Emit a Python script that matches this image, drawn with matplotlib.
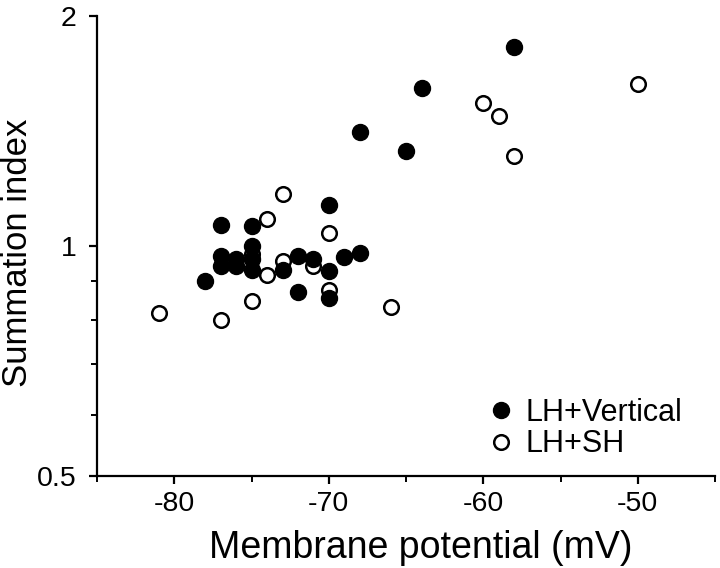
import matplotlib
matplotlib.use("Agg")
import matplotlib.pyplot as plt
from matplotlib.ticker import FixedLocator, LogLocator, MultipleLocator, NullFormatter, FuncFormatter

plt.rcParams['font.family'] = ['Liberation Sans', 'DejaVu Sans']
plt.rcParams['axes.unicode_minus'] = False

# LH+Vertical (filled)
vert_mv = [-58, -64, -68, -65, -70, -77, -75, -75, -77, -77, -76, -76, -75, -75,
           -78, -73, -72, -71, -70, -69, -68, -72, -70]
vert_si = [1.82, 1.61, 1.41, 1.33, 1.13, 1.065, 1.062, 1.0, 0.97, 0.94, 0.96, 0.94,
           0.96, 0.93, 0.90, 0.93, 0.97, 0.96, 0.927, 0.967, 0.979, 0.87, 0.855]

# LH+SH (open)
sh_mv = [-73, -74, -70, -75, -74, -73, -71, -70, -75, -81, -77, -66, -60, -59, -58, -50]
sh_si = [1.168, 1.084, 1.04, 0.975, 0.916, 0.955, 0.94, 0.875, 0.846, 0.818, 0.801,
         0.833, 1.537, 1.479, 1.31, 1.63]

yticks = [0.5, 1, 2]
ytick_labels = ['0.5', '1', '2']

fig = plt.figure(figsize=(7.2, 5.68), dpi=100)
ax = fig.add_axes([0.135, 0.162, 0.858, 0.81])

ax.plot(sh_mv, sh_si, 'o', ms=10.5, mfc='white', mec='black', mew=1.8,
        label='LH+SH', zorder=3)
ax.plot(vert_mv, vert_si, 'o', ms=11.5, mfc='black', mec='black',
        label='LH+Vertical', zorder=4)

ax.set_yscale('log')
ax.set_ylim(0.5, 2)
ax.set_xlim(-85, -45)
ax.yaxis.set_major_locator(FixedLocator(yticks))
ax.yaxis.set_major_formatter(FuncFormatter(lambda v, p: ytick_labels[yticks.index(v)] if v in yticks else ''))
ax.yaxis.set_minor_locator(LogLocator(base=10, subs=range(2, 10)))
ax.yaxis.set_minor_formatter(NullFormatter())
ax.xaxis.set_major_locator(FixedLocator([-80, -70, -60, -50]))
ax.xaxis.set_minor_locator(MultipleLocator(5))

for s in ['top', 'right']:
    ax.spines[s].set_visible(False)
for s in ['left', 'bottom']:
    ax.spines[s].set_linewidth(1.6)

ax.tick_params(which='major', length=6, width=1.6, labelsize=20.5)
ax.tick_params(axis='x', which='major', pad=5)
ax.tick_params(axis='y', which='major', pad=9)
ax.tick_params(which='minor', length=4, width=1.4)

ax.set_xlabel('Membrane potential (mV)', fontsize=27)
ax.set_ylabel('Summation index', fontsize=25)
ax.xaxis.set_label_coords(0.523, -0.118, transform=ax.transAxes)
ax.yaxis.set_label_coords(-0.102, 0.485, transform=ax.transAxes)

h, l = ax.get_legend_handles_labels()
ax.legend(h[::-1], l[::-1], loc='lower left', bbox_to_anchor=(0.629, 0.036),
          frameon=False, fontsize=22, handlelength=1, handletextpad=0.3,
          borderpad=0, labelspacing=0.06, borderaxespad=0)

fig.savefig('out.png', dpi=100)
